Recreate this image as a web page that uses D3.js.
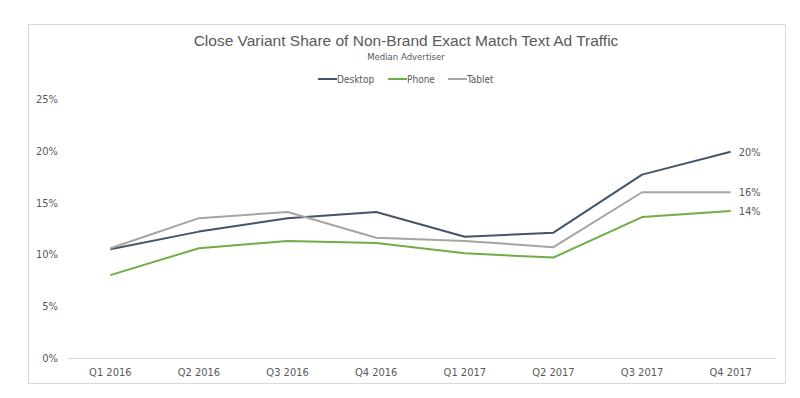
<!DOCTYPE html>
<html>
<head>
<meta charset="utf-8">
<script src="https://cdn.jsdelivr.net/npm/d3@7"></script>
<style>
  body { margin: 0; background: #fff; }
  text { fill: #595959; }
  .tick text { font-family: "DejaVu Sans Condensed", "Liberation Sans", sans-serif; font-size: 11px; }
</style>
</head>
<body>
<svg id="chart" width="800" height="398"></svg>
<script>
const quarters = ['Q1 2016', 'Q2 2016', 'Q3 2016', 'Q4 2016', 'Q1 2017', 'Q2 2017', 'Q3 2017', 'Q4 2017'];
const desktop = [10.5, 12.2, 13.5, 14.1, 11.7, 12.1, 17.7, 19.9];
const phone = [8.0, 10.6, 11.3, 11.1, 10.1, 9.7, 13.6, 14.2];
const tablet = [10.6, 13.5, 14.1, 11.6, 11.3, 10.7, 16.0, 16.0];
const yTicks = [0, 5, 10, 15, 20, 25];

const series = [
  { name: 'Desktop', values: desktop, color: '#44546A' },
  { name: 'Phone', values: phone, color: '#70AD47' },
  { name: 'Tablet', values: tablet, color: '#A5A5A5' }
];

var svg = d3.select('#chart'),
  width = +svg.attr('width'),
  height = +svg.attr('height');

// outer chart border
svg.append('rect')
  .attr('x', 28.5).attr('y', 24.5)
  .attr('width', 757).attr('height', 359)
  .attr('fill', 'none')
  .attr('stroke', '#d9d9d9');

var x = d3.scaleBand().domain(quarters).range([66, 775]);
var y = d3.scaleLinear().domain([0, 25]).range([358, 99]);

// y axis (labels only)
var yAxis = svg.append('g')
  .attr('transform', 'translate(58,0)')
  .call(d3.axisLeft(y).tickValues(yTicks).tickSize(0).tickPadding(0).tickFormat(d => d + '%'));
yAxis.select('.domain').remove();

// x axis baseline + labels
var xAxis = svg.append('g')
  .attr('transform', 'translate(0,' + y(0) + ')')
  .call(d3.axisBottom(x).tickSize(0).tickPadding(10));
xAxis.select('.domain').attr('stroke', '#d9d9d9');

var line = d3.line()
  .x((d, i) => x(quarters[i]) + x.bandwidth() / 2)
  .y(d => y(d));

svg.append('g')
  .selectAll('path')
  .data(series)
  .enter()
  .append('path')
  .attr('d', d => line(d.values))
  .attr('fill', 'none')
  .attr('stroke', d => d.color)
  .attr('stroke-width', 2)
  .attr('stroke-linejoin', 'round');

// end labels
svg.append('g')
  .selectAll('text')
  .data(series)
  .enter()
  .append('text')
  .attr('x', x(quarters[7]) + x.bandwidth() / 2 + 8)
  .attr('y', d => y(d.values[7]) + 4)
  .style('font-family', '"DejaVu Sans Condensed", "Liberation Sans", sans-serif')
  .style('font-size', '11px')
  .text(d => Math.round(d.values[7]) + '%');

// title
svg.append('text')
  .attr('x', 406).attr('y', 46)
  .attr('text-anchor', 'middle')
  .style('font-family', '"Liberation Sans", Arial, sans-serif')
  .style('font-size', '15.5px')
  .text('Close Variant Share of Non-Brand Exact Match Text Ad Traffic');

svg.append('text')
  .attr('x', 406).attr('y', 60)
  .attr('text-anchor', 'middle')
  .style('font-family', '"DejaVu Sans Condensed", "Liberation Sans", sans-serif')
  .style('font-size', '9.5px')
  .text('Median Advertiser');

// legend
var legendX = [318, 388, 448];
var legend = svg.append('g')
  .selectAll('g')
  .data(series)
  .enter()
  .append('g')
  .attr('transform', (d, i) => 'translate(' + legendX[i] + ',79)');

legend.append('line')
  .attr('x1', 0).attr('x2', 19)
  .attr('stroke', d => d.color)
  .attr('stroke-width', 2);

legend.append('text')
  .attr('x', 19).attr('y', 3.5)
  .style('font-family', '"DejaVu Sans Condensed", "Liberation Sans", sans-serif')
  .style('font-size', '10px')
  .text(d => d.name);
</script>
</body>
</html>
